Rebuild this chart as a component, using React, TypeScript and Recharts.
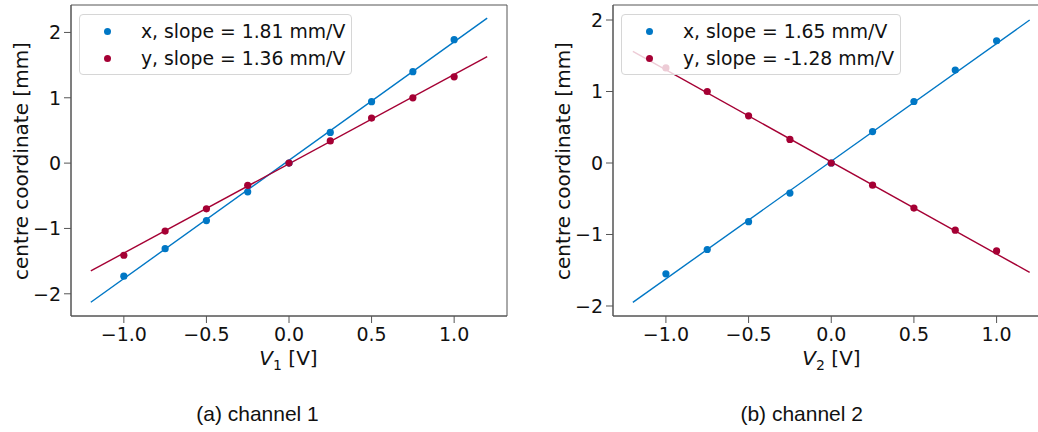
import React from "react"
import { ScatterChart, Scatter, XAxis, YAxis, ReferenceArea } from "recharts"

const volts = [-1, -0.75, -0.5, -0.25, 0, 0.25, 0.5, 0.75, 1]
const ch1X = [-1.73, -1.31, -0.88, -0.44, 0, 0.47, 0.94, 1.4, 1.89]
const ch1Y = [-1.41, -1.04, -0.7, -0.34, 0, 0.34, 0.69, 1.0, 1.32]
const ch2X = [-1.55, -1.21, -0.82, -0.42, 0, 0.44, 0.86, 1.3, 1.71]
const ch2Y = [1.33, 1.0, 0.66, 0.33, 0, -0.31, -0.63, -0.94, -1.23]

const fitV = [-1.2, 1.2]
const ch1FitX = [-2.13, 2.22]
const ch1FitY = [-1.65, 1.63]
const ch2FitX = [-1.95, 2.0]
const ch2FitY = [1.56, -1.53]

const ch1Labels = ["x, slope = 1.81 mm/V", "y, slope = 1.36 mm/V"]
const ch2Labels = ["x, slope = 1.65 mm/V", "y, slope = -1.28 mm/V"]
const xTicks = [-1, -0.5, 0, 0.5, 1]
const yTicks = [-2, -1, 0, 1, 2]

const BLUE = "#0077c5"
const RED = "#a50034"
const AXIS = "#555"
const FONT = "'DejaVu Sans', sans-serif"

const zip = (xs: number[], ys: number[]) => xs.map((v, i) => ({ v, y: ys[i] }))
const fmtX = (n: number) => (n < 0 ? "\u2212" : "") + Math.abs(n).toFixed(1)
const fmtY = (n: number) => (n < 0 ? "\u2212" : "") + Math.abs(n)

const dot = (color: string) => (p: any) => <circle cx={p.cx} cy={p.cy} r={3.6} fill={color} />
const noDot = () => <g />

type PanelProps = {
  left: number
  width: number
  margin: { top: number; right: number; bottom: number; left: number }
  yDomain: [number, number]
  xData: number[]
  yData: number[]
  fitX: number[]
  fitY: number[]
  labels: string[]
  sub: string
  caption: string
  captionX: number
  yLabelX: number
  xLabelX: number
}

function Panel(p: PanelProps) {
  const xDomain: [number, number] = [-1.32, 1.32]
  const plotLeft = p.left + p.margin.left + 40
  const tickStyle = { fontSize: 19, fill: "#111", fontFamily: FONT }
  return (
    <>
      <div style={{ position: "absolute", left: p.left, top: 0 }}>
        <ScatterChart width={p.width} height={432} margin={p.margin}>
          <XAxis
            type="number"
            dataKey="v"
            domain={xDomain}
            ticks={xTicks}
            tickFormatter={fmtX}
            allowDataOverflow
            height={30}
            stroke={AXIS}
            tickSize={7}
            tickMargin={5}
            tick={tickStyle}
          />
          <YAxis
            type="number"
            dataKey="y"
            domain={p.yDomain}
            ticks={yTicks}
            tickFormatter={fmtY}
            allowDataOverflow
            width={40}
            stroke={AXIS}
            tickSize={7}
            tickMargin={3}
            tick={tickStyle}
          />
          <ReferenceArea
            x1={xDomain[0]}
            x2={xDomain[1]}
            y1={p.yDomain[0]}
            y2={p.yDomain[1]}
            fill="none"
            stroke={AXIS}
            strokeWidth={1}
          />
          <Scatter data={zip(fitV, p.fitX)} line={{ stroke: BLUE, strokeWidth: 1.4 }} shape={noDot} isAnimationActive={false} />
          <Scatter data={zip(fitV, p.fitY)} line={{ stroke: RED, strokeWidth: 1.4 }} shape={noDot} isAnimationActive={false} />
          <Scatter data={zip(volts, p.xData)} shape={dot(BLUE)} isAnimationActive={false} />
          <Scatter data={zip(volts, p.yData)} shape={dot(RED)} isAnimationActive={false} />
        </ScatterChart>
      </div>
      <div
        style={{
          position: "absolute",
          left: plotLeft + 8,
          top: 14,
          height: 61,
          boxSizing: "border-box",
          paddingRight: 6,
          background: "rgba(255,255,255,0.8)",
          border: "1px solid #d6d6d6",
          borderRadius: 4,
          fontFamily: FONT,
          fontSize: 18.8,
          color: "#111",
        }}
      >
        {p.labels.map((t, i) => (
          <div key={t} style={{ position: "relative", height: 27, lineHeight: "27px", paddingLeft: 61, marginTop: i === 0 ? 3 : 0, whiteSpace: "nowrap" }}>
            <span
              style={{
                position: "absolute",
                left: 23.5,
                top: 10,
                width: 7,
                height: 7,
                borderRadius: "50%",
                background: i === 0 ? BLUE : RED,
              }}
            />
            {t}
          </div>
        ))}
      </div>
      <div
        style={{
          position: "absolute",
          left: p.yLabelX,
          top: 161,
          transform: "translate(-50%, -50%) rotate(-90deg)",
          fontFamily: FONT,
          fontSize: 20,
          lineHeight: "22px",
          color: "#111",
          whiteSpace: "nowrap",
        }}
      >
        centre coordinate [mm]
      </div>
      <div
        style={{
          position: "absolute",
          left: p.xLabelX,
          top: 359,
          transform: "translate(-50%, -50%)",
          fontFamily: FONT,
          fontSize: 20,
          lineHeight: "18px",
          color: "#111",
          whiteSpace: "nowrap",
        }}
      >
        <span style={{ fontStyle: "italic" }}>V</span>
        <span style={{ fontSize: 14, position: "relative", top: 5 }}>{p.sub}</span> [V]
      </div>
      <div
        style={{
          position: "absolute",
          left: p.captionX,
          top: 414,
          transform: "translate(-50%, -50%)",
          fontFamily: "'Liberation Sans', Arial, sans-serif",
          fontSize: 21,
          color: "#111",
          whiteSpace: "nowrap",
        }}
      >
        {p.caption}
      </div>
    </>
  )
}

export default function App() {
  return (
    <div style={{ position: "absolute", left: 0, top: 0, width: 1038, height: 432, overflow: "hidden", background: "#fff" }}>
      <Panel
        left={0}
        width={520}
        margin={{ top: 5, right: 13, bottom: 86, left: 31 }}
        yDomain={[-2.34, 2.42]}
        xData={ch1X}
        yData={ch1Y}
        fitX={ch1FitX}
        fitY={ch1FitY}
        labels={ch1Labels}
        sub="1"
        caption="(a) channel 1"
        captionX={257.5}
        yLabelX={21}
        xLabelX={288.5}
      />
      <Panel
        left={520}
        width={540}
        margin={{ top: 5, right: 10.5, bottom: 86, left: 53 }}
        yDomain={[-2.14, 2.21]}
        xData={ch2X}
        yData={ch2Y}
        fitX={ch2FitX}
        fitY={ch2FitY}
        labels={ch2Labels}
        sub="2"
        caption="(b) channel 2"
        captionX={801.7}
        yLabelX={563}
        xLabelX={831.5}
      />
    </div>
  )
}
